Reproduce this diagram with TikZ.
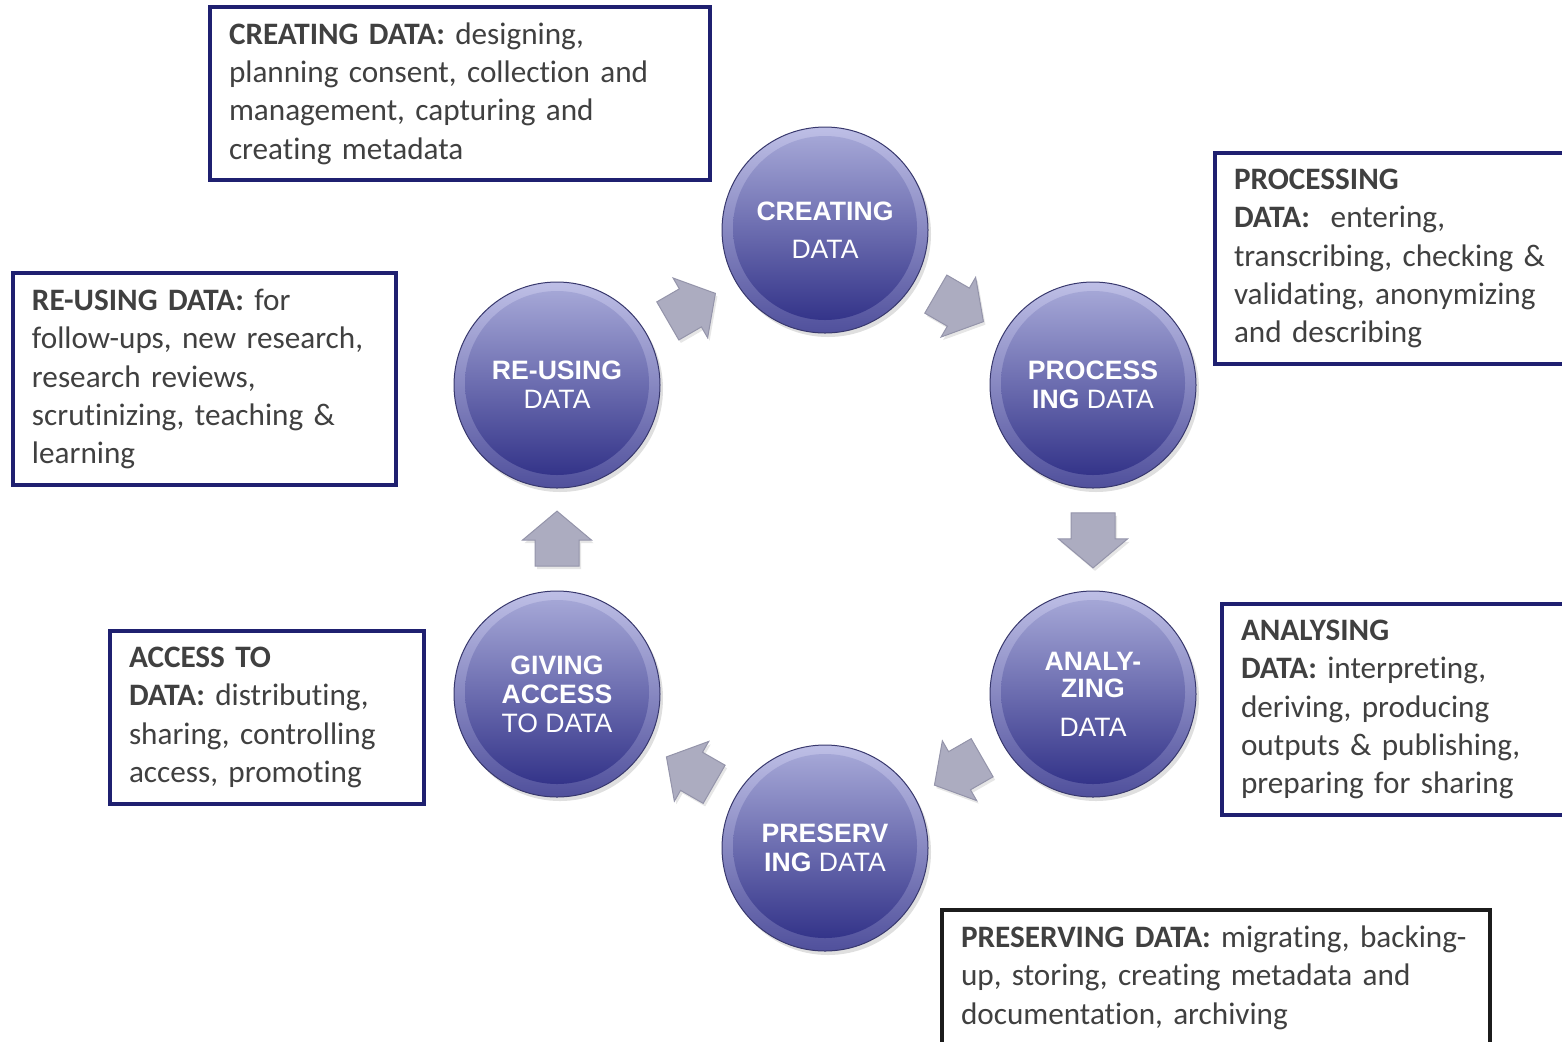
\documentclass[tikz,border=0pt]{standalone}
\usepackage{fontspec}
\setmainfont{Carlito}[Ligatures=NoCommon]
\newfontfamily\circfont{Liberation Sans}
\usetikzlibrary{shapes.arrows,shadows}
\definecolor{boxnavy}{RGB}{31,32,112}
\definecolor{boxdark}{RGB}{28,28,28}
\definecolor{textgray}{RGB}{64,64,64}
\definecolor{ringtop}{RGB}{190,191,230}
\definecolor{ringbot}{RGB}{80,80,156}
\definecolor{disctop}{RGB}{170,172,218}
\definecolor{discmid}{RGB}{114,115,178}
\definecolor{discbot}{RGB}{44,44,132}
\definecolor{arrowfill}{RGB}{172,172,192}
\definecolor{arrowedge}{RGB}{148,148,170}
\tikzset{
    stage/.style={circle, minimum size=103pt, inner sep=0pt,
        draw=ringbot!70!black, line width=.5pt,
        top color=ringtop, bottom color=ringbot,
        drop shadow={shadow xshift=1.5pt, shadow yshift=-2pt, opacity=.25},
        path picture={\shade[top color=disctop, middle color=discmid, bottom color=discbot]
            ([yshift=1pt]path picture bounding box.center) circle (46pt);},
        text=white, align=center, font=\circfont\fontsize{13.3}{14.5}\selectfont},
    cyclearrow/.style={single arrow, sloped, allow upside down, anchor=tail, pos=.234,
        fill=arrowfill, draw=arrowedge, line width=.5pt,
        inner xsep=0pt, inner ysep=10.75pt, minimum height=27.5pt,
        single arrow head extend=6.25pt, single arrow tip angle=100,
        drop shadow={shadow xshift=1pt, shadow yshift=-1.5pt, opacity=.2}},
    infobox/.style={draw=boxnavy, line width=2pt, fill=white, outer sep=0pt,
        anchor=north west, align=left, inner xsep=9.5pt, text=textgray,
        font=\fontsize{15.6}{19.2}\selectfont},
}
\begin{document}
\begin{tikzpicture}[x=0.5pt,y=-0.5pt]
\useasboundingbox (0,0) rectangle (1562,1041);
% stages
\node[stage] (crt) at (825,230) {\textbf{CREATING}\\[4.5pt] DATA};
\node[stage] (prc) at (1093,385) {\textbf{PROCESS}\\ \textbf{ING} DATA};
\node[stage] (ana) at (1093,694) {\textbf{ANALY-}\\[-1pt] \textbf{ZING}\\[5pt] DATA};
\node[stage] (prs) at (825,848) {\textbf{PRESERV}\\ \textbf{ING} DATA};
\node[stage] (acc) at (557,694) {\textbf{GIVING}\\ \textbf{ACCESS}\\ TO DATA};
\node[stage] (reu) at (557,385) {\textbf{RE-USING}\\ DATA};
% arrows round the cycle
\path (reu) -- node[cyclearrow] {} (crt);
\path (crt) -- node[cyclearrow] {} (prc);
\path (prc) -- node[cyclearrow] {} (ana);
\path (ana) -- node[cyclearrow] {} (prs);
\path (prs) -- node[cyclearrow] {} (acc);
\path (acc) -- node[cyclearrow] {} (reu);
% descriptions
\node[infobox, text width=231pt, minimum height=86.5pt] (crtbox) at (210,7)
    {\textbf{CREATING DATA:} designing,\\ \mbox{planning consent, collection and}\\
     management, capturing and\\ creating metadata};
\node[infobox, text width=163.5pt, minimum height=105.5pt] (prcbox) at (1215,153)
    {\textbf{PROCESSING}\\ \textbf{DATA:}\ \ entering,\\ \mbox{transcribing, checking \&}\\
     \mbox{validating, anonymizing}\\ and describing};
\node[infobox, text width=172.5pt, minimum height=106pt] (reubox) at (13,273)
    {\textbf{RE-USING DATA:} for\\ \mbox{follow-ups, new research,}\\ research reviews,\\
     \mbox{scrutinizing, teaching \&}\\ learning};
\node[infobox, text width=138pt, minimum height=86.5pt] (accbox) at (110,631)
    {\textbf{ACCESS TO}\\ \mbox{\textbf{DATA:} distributing,}\\ \mbox{sharing, controlling}\\
     \mbox{access, promoting}};
\node[infobox, text width=160pt, minimum height=105.5pt] (anabox) at (1222,604)
    {\textbf{ANALYSING}\\ \mbox{\textbf{DATA:} interpreting,}\\ deriving, producing\\
     \mbox{outputs \& publishing,}\\ \mbox{preparing for sharing}};
\node[infobox, draw=boxdark, text width=255pt, minimum height=67.5pt] (prsbox) at (942,910)
    {\mbox{\textbf{PRESERVING DATA:} migrating, backing-}\\
     \mbox{up, storing, creating metadata and}\\ documentation, archiving};
\end{tikzpicture}
\end{document}
